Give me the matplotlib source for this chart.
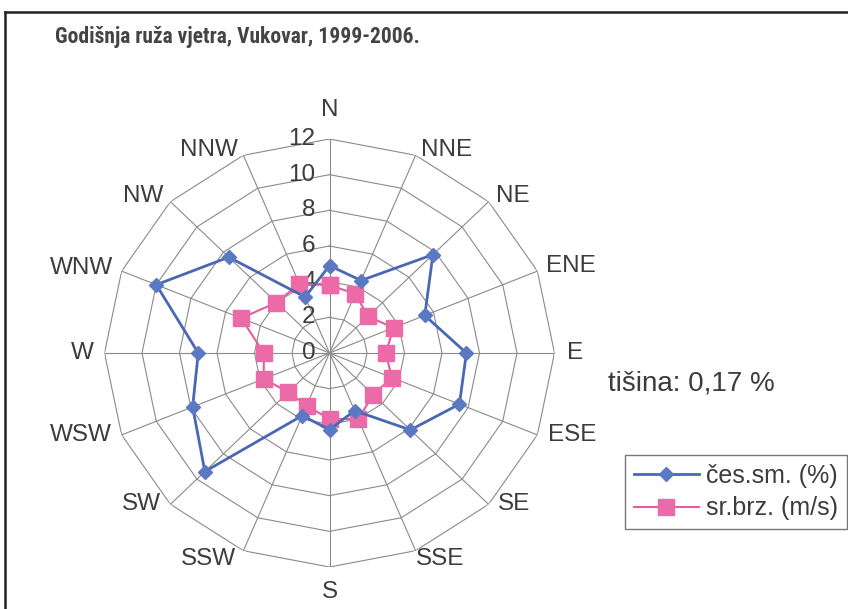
#!/usr/bin/env python3
import numpy as np
import matplotlib
matplotlib.use("Agg")
import matplotlib.pyplot as plt
from matplotlib.lines import Line2D
from matplotlib import font_manager

directions = ['N', 'NNE', 'NE', 'ENE', 'E', 'ESE', 'SE', 'SSE',
              'S', 'SSW', 'SW', 'WSW', 'W', 'WNW', 'NW', 'NNW']
# cestina smjera (%)
freq = [4.9, 4.4, 7.8, 5.5, 7.3, 7.5, 6.1, 3.5,
        4.3, 3.8, 9.4, 7.9, 7.0, 10.0, 7.6, 3.4]
# srednja brzina (m/s)
speed = [3.8, 3.6, 2.9, 3.7, 3.0, 3.6, 3.3, 4.0,
         3.7, 3.2, 3.1, 3.8, 3.5, 5.1, 4.0, 4.2]
rings = [0, 2, 4, 6, 8, 10, 12]

title = 'Godišnja ruža vjetra, Vukovar, 1999-2006.'
calm_text = 'tišina: 0,17 %'

txt = '#3c3c3c'
grid = '#8a8a8a'
blue = '#4a67b3'
pink = '#e35d9c'

plt.rcParams['font.family'] = ['Liberation Sans', 'DejaVu Sans']

fig = plt.figure(figsize=(8.48, 6.09), dpi=100)
ax = fig.add_axes([104.5/848, 42/609, 450/848, 428/609], projection='polar')
ax.set_aspect('auto')
ax.set_theta_zero_location('N')
ax.set_theta_direction(-1)
ax.set_ylim(0, 12)
ax.grid(False)
ax.set_xticks([])
ax.set_yticks([])
ax.spines['polar'].set_visible(False)

ang = np.deg2rad(np.arange(len(directions)) * 360.0 / len(directions))
closed = np.append(ang, ang[0])

# polygon grid
for r in rings[1:]:
    ax.plot(closed, [r] * len(closed), color=grid, lw=0.8, zorder=1)
for a in ang:
    ax.plot([a, a], [0, rings[-1]], color=grid, lw=0.8, zorder=1)

# radial tick labels
for r in rings:
    ax.annotate(str(r), xy=(0, r), xytext=(-10, 0), textcoords='offset points',
                ha='right', va='center', fontsize=17.5, color=txt, zorder=2)

# direction labels
place = {
    0: ('center', 'bottom', (0, 13)),
    1: ('left', 'bottom', (4, -4)), 2: ('left', 'bottom', (5, -4)),
    3: ('left', 'bottom', (6, -4)),
    4: ('left', 'center', (9, 0)), 5: ('left', 'center', (8, 0)),
    6: ('left', 'center', (7, 0)),
    7: ('left', 'top', (0, 2)),
    8: ('center', 'top', (0, -10)),
    9: ('right', 'top', (-5, 2)),
    10: ('right', 'center', (-7, 0)), 11: ('right', 'center', (-7, 0)),
    12: ('right', 'center', (-8, 0)),
    13: ('right', 'bottom', (-6, -6)), 14: ('right', 'bottom', (-5, -4)),
    15: ('right', 'bottom', (-4, -4)),
}
for i, lab in enumerate(directions):
    ha, va, off = place[i]
    ax.annotate(lab, xy=(ang[i], rings[-1]), xytext=off, textcoords='offset points',
                ha=ha, va=va, fontsize=17.5, color=txt, annotation_clip=False)

l1, = ax.plot(closed, np.append(freq, freq[0]), color=blue, lw=2, marker='D',
              ms=7, mfc='#5b78c2', mec='#5b78c2', label='čes.sm. (%)', zorder=4,
              clip_on=False)
l2, = ax.plot(closed, np.append(speed, speed[0]), color=pink, lw=1.5, marker='s',
              ms=11, mfc='#ec6aa8', mec='#ec6aa8', label='sr.brz. (m/s)', zorder=3,
              clip_on=False)

# narrow bold face for the title if one is installed
names = {f.name for f in font_manager.fontManager.ttflist}
narrow = [n for n in ('Liberation Sans Narrow', 'Arial Narrow', 'Roboto Condensed',
                      'DejaVu Sans Condensed', 'Open Sans Condensed') if n in names]
if narrow:
    fig.text(55/848, 1 - 37/609, title, fontsize=15.5, fontweight='bold', color='#444444',
             ha='left', va='center', family=[narrow[0], 'Liberation Sans'])
else:
    fig.text(55/848, 1 - 37/609, title, fontsize=14, fontweight='bold', color='#444444',
             ha='left', va='center', family='Roboto')
fig.text(608/848, 1 - 383/609, calm_text, fontsize=20, color=txt, ha='left', va='center')

leg = fig.legend(handles=[l1, l2], loc='upper left',
                 bbox_to_anchor=(625/848, 1 - 455/609), fontsize=18,
                 fancybox=False, frameon=True, handlelength=2.6, handletextpad=0.3,
                 borderpad=0.35, labelspacing=0.35, borderaxespad=0)
leg.get_frame().set_edgecolor('#555555')
leg.get_frame().set_linewidth(1.0)
for t in leg.get_texts():
    t.set_color(txt)

# chart border (left and top edges visible)
fig.add_artist(Line2D([5/848, 5/848], [0, 1 - 12/609], color='#222222', lw=1.8))
fig.add_artist(Line2D([5/848, 1], [1 - 12/609, 1 - 12/609], color='#222222', lw=1.8))

fig.savefig('out.png', dpi=100)
